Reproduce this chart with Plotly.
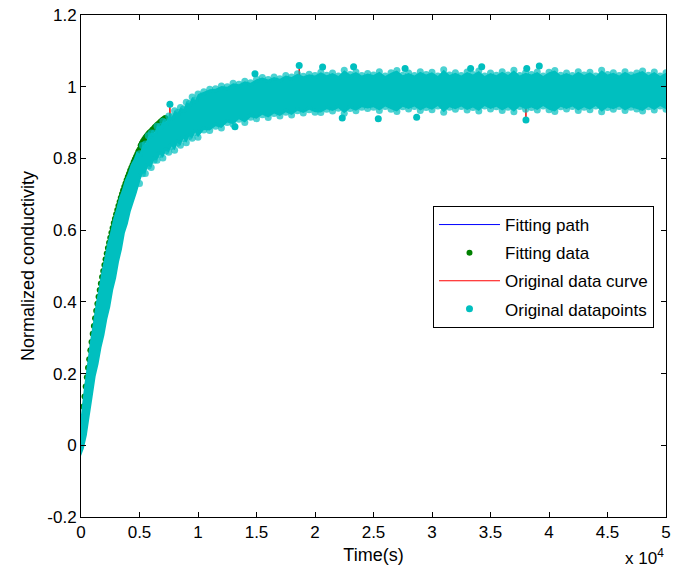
import plotly.graph_objects as go

# Sampling instants (s) for the envelope of the measured data cloud
time_grid = list(range(0, 10001, 250)) + list(range(10500, 50001, 500))

# Upper and lower edges of the measured data cloud (normalized conductivity)
upper_edge = [
    0.085, 0.160, 0.221, 0.286, 0.337, 0.393, 0.436, 0.485, 0.522, 0.564,
    0.595, 0.632, 0.658, 0.690, 0.712, 0.740, 0.758, 0.783, 0.798, 0.819,
    0.813, 0.836, 0.840, 0.863, 0.871, 0.871, 0.890, 0.889, 0.904, 0.901,
    0.918, 0.916, 0.933, 0.928, 0.942, 0.938, 0.957, 0.953, 0.971, 0.963,
    0.980,
    0.986, 0.993, 0.994, 1.002, 1.000, 1.010, 1.007, 1.015, 1.011, 1.021,
    1.026, 1.020, 1.027, 1.022, 1.031, 1.027, 1.036, 1.029, 1.035, 1.031,
    1.040, 1.032, 1.038, 1.030, 1.046, 1.034, 1.041, 1.031, 1.037, 1.033,
    1.042, 1.030, 1.039, 1.045, 1.032, 1.038, 1.031, 1.042, 1.034, 1.040,
    1.030, 1.047, 1.033, 1.039, 1.031, 1.041, 1.034, 1.044, 1.030, 1.038,
    1.032, 1.042, 1.033, 1.046, 1.031, 1.039, 1.034, 1.041, 1.030, 1.040,
    1.045, 1.032, 1.038, 1.031, 1.042, 1.033, 1.040, 1.030, 1.046, 1.034,
    1.039, 1.031, 1.042, 1.033, 1.038, 1.044, 1.032, 1.041, 1.030, 1.039,
]
lower_edge = [
    -0.030, -0.008, 0.028, 0.083, 0.137, 0.192, 0.227, 0.273, 0.307, 0.352,
    0.386, 0.433, 0.466, 0.512, 0.546, 0.592, 0.617, 0.652, 0.677, 0.702,
    0.730, 0.757, 0.758, 0.779, 0.775, 0.795, 0.795, 0.811, 0.801, 0.821,
    0.817, 0.833, 0.823, 0.842, 0.837, 0.855, 0.844, 0.861, 0.856, 0.872,
    0.859,
    0.879, 0.878, 0.890, 0.885, 0.900, 0.895, 0.909, 0.900, 0.915, 0.911,
    0.922, 0.914, 0.925, 0.918, 0.929, 0.921, 0.933, 0.927, 0.936, 0.929,
    0.928, 0.937, 0.932, 0.940, 0.926, 0.939, 0.933, 0.943, 0.939, 0.943,
    0.934, 0.945, 0.937, 0.931, 0.944, 0.938, 0.945, 0.934, 0.942, 0.936,
    0.946, 0.929, 0.943, 0.937, 0.945, 0.935, 0.942, 0.932, 0.946, 0.938,
    0.944, 0.934, 0.943, 0.930, 0.945, 0.937, 0.942, 0.935, 0.946, 0.936,
    0.931, 0.944, 0.938, 0.945, 0.934, 0.943, 0.936, 0.946, 0.930, 0.942,
    0.937, 0.945, 0.934, 0.943, 0.938, 0.932, 0.944, 0.935, 0.946, 0.937,
]

# Isolated measured points standing out of the cloud
outlier_t = [7600, 13160, 14870, 18650, 20650, 22330, 23300, 25410,
             27700, 28690, 33300, 34250, 38030, 38100, 39170]
outlier_y = [0.951, 0.888, 1.036, 1.059, 1.055, 0.913, 1.056, 0.911,
             1.051, 0.915, 1.051, 1.056, 0.907, 1.051, 1.058]

# Line joining the measured data
curve_t = [0, 500, 1000, 1500, 2000, 2500, 3000, 3500, 4000, 5000, 6000,
           7000, 7550, 7600, 7650, 8000, 9000, 10000, 12000, 14000, 16000,
           18000, 18600, 18650, 18700, 20000, 25000, 30000, 35000, 38000,
           38030, 38060, 40000, 45000, 50000]
curve_y = [0.02, 0.12, 0.24, 0.33, 0.42, 0.50, 0.57, 0.63, 0.69, 0.78, 0.83,
           0.86, 0.87, 0.951, 0.87, 0.88, 0.90, 0.92, 0.945, 0.955, 0.965,
           0.975, 0.98, 1.059, 0.98, 0.98, 0.985, 0.985, 0.985, 0.985,
           0.907, 0.985, 0.985, 0.985, 0.985]

# Points used for the fit
fit_t = list(range(0, 7201, 100))
fit_y = [
    0.049, 0.079, 0.108, 0.136, 0.164, 0.190, 0.216, 0.240, 0.265, 0.288,
    0.311, 0.333, 0.354, 0.375, 0.395, 0.414, 0.433, 0.451, 0.469, 0.486,
    0.503, 0.519, 0.535, 0.550, 0.565, 0.579, 0.593, 0.606, 0.620, 0.632,
    0.644, 0.656, 0.668, 0.679, 0.690, 0.701, 0.711, 0.721, 0.730, 0.740,
    0.749, 0.757, 0.766, 0.774, 0.782, 0.790, 0.798, 0.805, 0.812, 0.819,
    0.825, 0.836, 0.842, 0.848, 0.853, 0.858, 0.862, 0.866, 0.870, 0.873,
    0.876, 0.880, 0.883, 0.887, 0.890, 0.893, 0.896, 0.899, 0.902, 0.905,
    0.908, 0.910, 0.913,
]

# Fitted path
path_t = [0, 1000, 2000, 3000, 4000, 5000, 6000, 7000, 8000, 10000, 12000,
          15000, 20000, 30000, 40000, 50000]
path_y = [0.02, 0.24, 0.42, 0.57, 0.69, 0.775, 0.823, 0.855, 0.878, 0.92,
          0.942, 0.963, 0.978, 0.985, 0.985, 0.985]

x_ticks = [0, 5000, 10000, 15000, 20000, 25000, 30000, 35000, 40000, 45000, 50000]
x_tick_text = ["0", "0.5", "1", "1.5", "2", "2.5", "3", "3.5", "4", "4.5", "5"]
y_ticks = [-0.2, 0, 0.2, 0.4, 0.6, 0.8, 1.0, 1.2]
y_tick_text = ["-0.2", "0", "0.2", "0.4", "0.6", "0.8", "1", "1.2"]

CYAN = "#00BFBF"
FONT = "Liberation Sans, Arial, sans-serif"
DOT = 7

# Closed outline of the data cloud; dots sit on its vertices where the cloud
# is flat enough for them to show as the ragged edge
band_x = time_grid + time_grid[::-1]
band_y = upper_edge + lower_edge[::-1]
edge_sizes = [0 if t < 5000 else DOT for t in time_grid]
band_sizes = edge_sizes + edge_sizes[::-1]

fig = go.Figure()
fig.add_trace(go.Scatter(
    x=path_t, y=path_y, mode="lines", name="Fitting path",
    line=dict(color="#0000FF", width=1), legendgroup="g1"))
fig.add_trace(go.Scatter(
    x=fit_t, y=fit_y, mode="markers", name="Fitting data",
    marker=dict(color="#008000", size=6, line=dict(width=0)), legendgroup="g2"))
fig.add_trace(go.Scatter(
    x=curve_t, y=curve_y, mode="lines", name="Original data curve",
    line=dict(color="#FF0000", width=1), legendgroup="g3"))
fig.add_trace(go.Scatter(
    x=band_x, y=band_y, mode="markers", fill="toself", fillcolor=CYAN,
    marker=dict(color=CYAN, size=band_sizes, line=dict(width=0)),
    showlegend=False, hoverinfo="skip"))
fig.add_trace(go.Scatter(
    x=outlier_t, y=outlier_y, mode="markers", name="Original datapoints",
    marker=dict(color=CYAN, size=DOT, line=dict(width=0)), legendgroup="g4"))

axis_style = dict(
    showline=True, linecolor="black", linewidth=1, mirror="ticks",
    ticks="inside", ticklen=5, tickcolor="black", tickwidth=1,
    showgrid=False, zeroline=False, automargin=False,
    tickfont=dict(family=FONT, size=17, color="black"),
)

fig.update_xaxes(
    range=[0, 50000], tickvals=x_ticks, ticktext=x_tick_text,
    title=dict(text="Time(s)", font=dict(family=FONT, size=18, color="black"),
               standoff=6),
    **axis_style)
fig.update_yaxes(
    range=[-0.2, 1.2], tickvals=y_ticks, ticktext=y_tick_text,
    title=dict(text="Normalized conductivity",
               font=dict(family=FONT, size=18, color="black"), standoff=8),
    **axis_style)

fig.add_annotation(
    text="x 10<sup>4</sup>", xref="paper", yref="paper", x=1.0, y=-0.08,
    xanchor="right", yanchor="middle", showarrow=False,
    font=dict(family=FONT, size=17, color="black"))

fig.update_layout(
    width=675, height=577, autosize=False,
    margin=dict(l=81, r=9, t=15, b=60),
    paper_bgcolor="white", plot_bgcolor="white",
    font=dict(family=FONT, size=17, color="black"),
    showlegend=True,
    legend=dict(
        x=0.6017, y=0.6195, xanchor="left", yanchor="top",
        bgcolor="white", bordercolor="black", borderwidth=1,
        font=dict(family=FONT, size=17, color="black"),
        traceorder="grouped", tracegroupgap=3, itemwidth=61,
    ),
)

fig.write_html("out.html")
